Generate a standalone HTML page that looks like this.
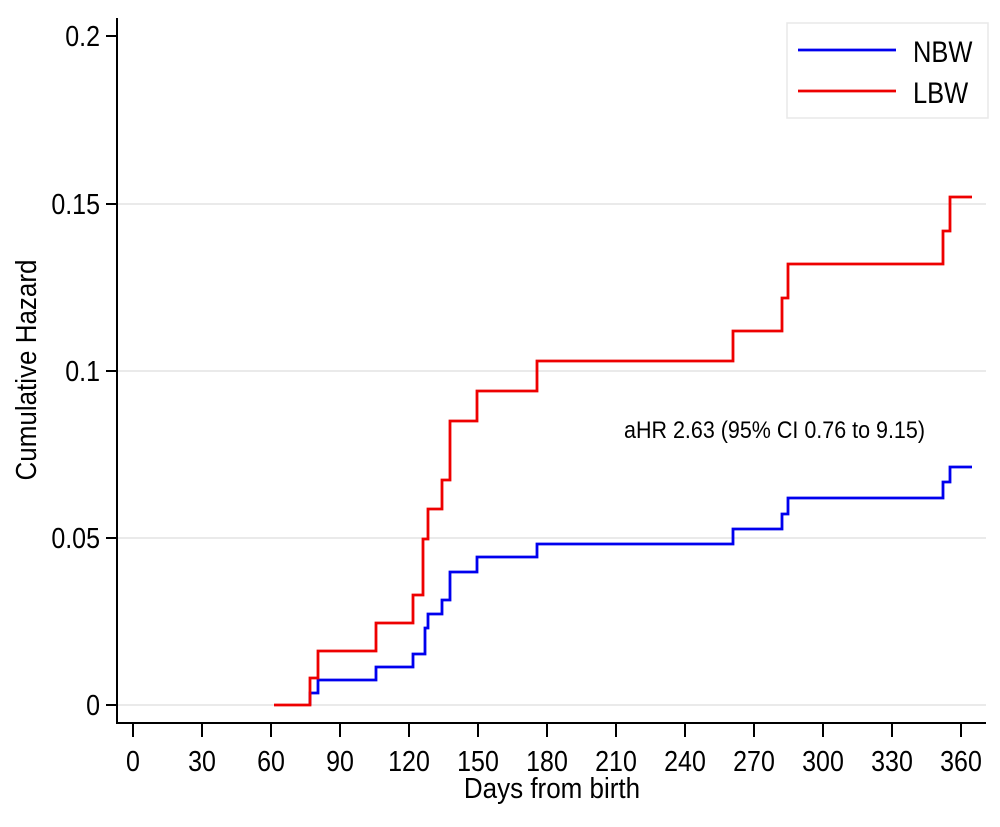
<!DOCTYPE html>
<html><head><style>body{margin:0;background:#fff}</style></head><body>
<svg width="1000" height="822" xmlns="http://www.w3.org/2000/svg" font-family="Liberation Sans, Arial, sans-serif">
<rect width="1000" height="822" fill="#fff"/>
<g stroke="#e4e4e4" stroke-width="1.5">
<line x1="117" y1="705" x2="986" y2="705"/>
<line x1="117" y1="538" x2="986" y2="538"/>
<line x1="117" y1="371" x2="986" y2="371"/>
<line x1="117" y1="204" x2="986" y2="204"/>
</g>
<g stroke="#000" stroke-width="2">
<line x1="117" y1="18" x2="117" y2="724"/>
<line x1="117" y1="723" x2="986" y2="723"/>
<line x1="106" y1="36" x2="117" y2="36"/>
<line x1="106" y1="204" x2="117" y2="204"/>
<line x1="106" y1="371" x2="117" y2="371"/>
<line x1="106" y1="538" x2="117" y2="538"/>
<line x1="106" y1="705" x2="117" y2="705"/>
</g>
<g stroke="#000" stroke-width="2">
<line x1="133" y1="723" x2="133" y2="737"/><line x1="202" y1="723" x2="202" y2="737"/>
<line x1="271" y1="723" x2="271" y2="737"/><line x1="340" y1="723" x2="340" y2="737"/>
<line x1="409" y1="723" x2="409" y2="737"/><line x1="478" y1="723" x2="478" y2="737"/>
<line x1="547" y1="723" x2="547" y2="737"/><line x1="616" y1="723" x2="616" y2="737"/>
<line x1="685" y1="723" x2="685" y2="737"/><line x1="754" y1="723" x2="754" y2="737"/>
<line x1="823" y1="723" x2="823" y2="737"/><line x1="892" y1="723" x2="892" y2="737"/>
<line x1="961" y1="723" x2="961" y2="737"/>
</g>
<g font-size="25" text-anchor="end" fill="#000">
<text transform="translate(100,46) scale(1,1.15)">0.2</text>
<text transform="translate(100,214) scale(1,1.15)">0.15</text>
<text transform="translate(100,381) scale(1,1.15)">0.1</text>
<text transform="translate(100,548) scale(1,1.15)">0.05</text>
<text transform="translate(100,715) scale(1,1.15)">0</text>
</g>
<g font-size="25" text-anchor="middle" fill="#000">
<text transform="translate(133,771) scale(1,1.15)">0</text>
<text transform="translate(202,771) scale(1,1.15)">30</text>
<text transform="translate(271,771) scale(1,1.15)">60</text>
<text transform="translate(340,771) scale(1,1.15)">90</text>
<text transform="translate(409,771) scale(1,1.15)">120</text>
<text transform="translate(478,771) scale(1,1.15)">150</text>
<text transform="translate(547,771) scale(1,1.15)">180</text>
<text transform="translate(616,771) scale(1,1.15)">210</text>
<text transform="translate(685,771) scale(1,1.15)">240</text>
<text transform="translate(754,771) scale(1,1.15)">270</text>
<text transform="translate(823,771) scale(1,1.15)">300</text>
<text transform="translate(892,771) scale(1,1.15)">330</text>
<text transform="translate(961,771) scale(1,1.15)">360</text>
</g>
<g font-size="26" text-anchor="middle" fill="#000">
<text transform="translate(552,798) scale(1,1.12)">Days from birth</text>
<text transform="translate(36,370) rotate(-90) scale(1,1.12)">Cumulative Hazard</text>
</g>
<text transform="translate(624,438) scale(1,1.12)" font-size="21.5" fill="#000">aHR 2.63 (95% CI 0.76 to 9.15)</text>
<polyline fill="none" stroke="#0000ee" stroke-width="2.8" points="310,705 310,693 318,693 318,680 376,680 376,667 413,667 413,654 425,654 425,628 428,628 428,614 442,614 442,600 450,600 450,572 477,572 477,557 537,557 537,544 733,544 733,529 782,529 782,514 788,514 788,498 943,498 943,482 950,482 950,467 972,467"/>
<polyline fill="none" stroke="#ee0000" stroke-width="2.8" points="274,705 310,705 310,678 318,678 318,651 376,651 376,623 413,623 413,595 423,595 423,539 428,539 428,509 442,509 442,480 450,480 450,421 477,421 477,391 537,391 537,361 733,361 733,331 782,331 782,298 788,298 788,264 943,264 943,231 950,231 950,197 972,197"/>
<rect x="787" y="23" width="201" height="95" fill="#fff" stroke="#e8e8e8" stroke-width="1.5"/>
<line x1="798" y1="50" x2="896" y2="50" stroke="#0000ee" stroke-width="2.8"/>
<line x1="798" y1="91" x2="896" y2="91" stroke="#ee0000" stroke-width="2.8"/>
<text transform="translate(913,62) scale(1,1.15)" font-size="25.5">NBW</text>
<text transform="translate(913,103) scale(1,1.15)" font-size="25.5">LBW</text>
</svg>
</body></html>
